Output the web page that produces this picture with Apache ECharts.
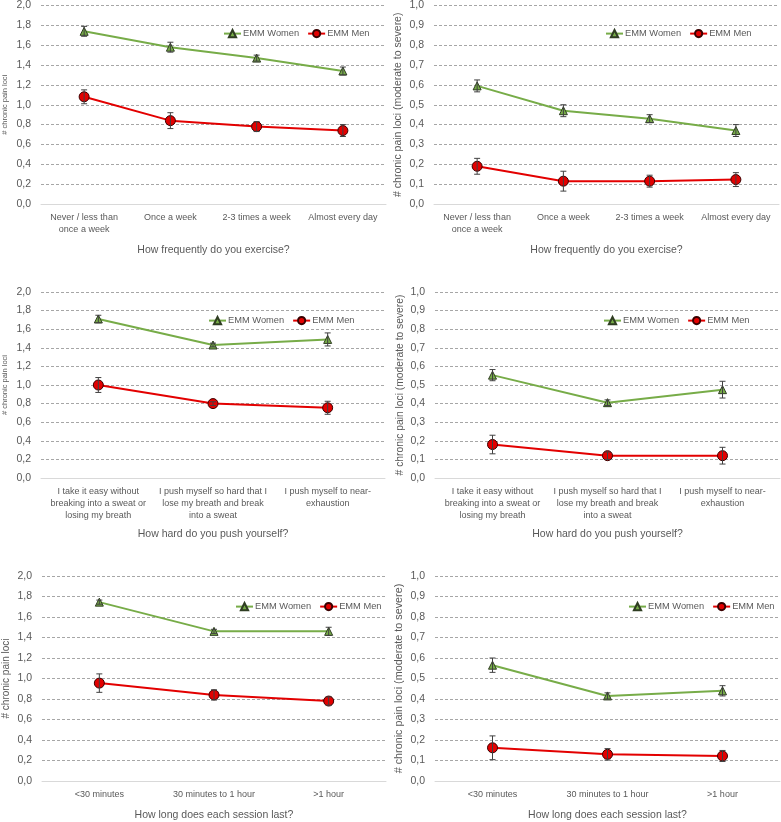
<!DOCTYPE html>
<html>
<head>
<meta charset="utf-8">
<script src="https://cdn.jsdelivr.net/npm/echarts@6/dist/echarts.min.js"></script>
<style>
  html, body { margin: 0; padding: 0; background: #fff; }
  #main { width: 781px; height: 822px; }
</style>
</head>
<body>
<div id="main"></div>
<script>
// categories
var freqCats = ['Never / less than\nonce a week', 'Once a week', '2-3 times a week', 'Almost every day'];
var hardCats = ['I take it easy without\nbreaking into a sweat or\nlosing my breath',
  'I push myself so hard that I\nlose my breath and break\ninto a sweat',
  'I push myself to near-\nexhaustion'];
var durCats = ['<30 minutes', '30 minutes to 1 hour', '>1 hour'];

// EMM values (all loci / moderate to severe) and error bar half-widths
var freqWomenAll = [1.74, 1.58, 1.47, 1.34];
var freqWomenAllErr = [0.05, 0.05, 0.03, 0.04];
var freqMenAll = [1.08, 0.84, 0.78, 0.74];
var freqMenAllErr = [0.07, 0.08, 0.05, 0.06];
var freqWomenMod = [0.595, 0.47, 0.43, 0.37];
var freqWomenModErr = [0.03, 0.03, 0.02, 0.03];
var freqMenMod = [0.19, 0.115, 0.115, 0.123];
var freqMenModErr = [0.04, 0.05, 0.03, 0.035];

var hardWomenAll = [1.71, 1.43, 1.49];
var hardWomenAllErr = [0.04, 0.02, 0.07];
var hardMenAll = [1.00, 0.80, 0.755];
var hardMenAllErr = [0.08, 0.02, 0.07];
var hardWomenMod = [0.553, 0.405, 0.475];
var hardWomenModErr = [0.03, 0.015, 0.045];
var hardMenMod = [0.18, 0.12, 0.12];
var hardMenModErr = [0.05, 0.02, 0.045];

var durWomenAll = [1.745, 1.46, 1.46];
var durWomenAllErr = [0.02, 0.02, 0.04];
var durMenAll = [0.955, 0.84, 0.78];
var durMenAllErr = [0.09, 0.05, 0.04];
var durWomenMod = [0.565, 0.415, 0.44];
var durWomenModErr = [0.035, 0.015, 0.025];
var durMenMod = [0.162, 0.13, 0.122];
var durMenModErr = [0.058, 0.028, 0.027];

var seriesNames = ['EMM Women', 'EMM Men'];
var yNameAll = '# chronic pain loci';
var yNameMod = '# chronic pain loci (moderate to severe)';

var FONT = 'Liberation Sans';
var TXT = '#595959';
var GREEN = '#77ac48';
var RED = '#e30000';

var panels = [
  {cats: freqCats, w: freqWomenAll, we: freqWomenAllErr, m: freqMenAll, me: freqMenAllErr, max: 2, step: 0.2,
   grid: {left: 40, top: 5, width: 346, height: 199}, legend: {left: 223, top: 29},
   xName: 'How frequently do you exercise?', xGap: 41, yName: yNameAll, yGap: 32, yFont: 7.5},
  {cats: freqCats, w: freqWomenMod, we: freqWomenModErr, m: freqMenMod, me: freqMenModErr, max: 1, step: 0.1,
   grid: {left: 434, top: 5, width: 345, height: 199}, legend: {left: 605, top: 29},
   xName: 'How frequently do you exercise?', xGap: 41, yName: yNameMod, yGap: 30, yFont: 10.5},
  {cats: hardCats, w: hardWomenAll, we: hardWomenAllErr, m: hardMenAll, me: hardMenAllErr, max: 2, step: 0.2,
   grid: {left: 39, top: 292, width: 346, height: 186}, legend: {left: 208, top: 316},
   xName: 'How hard do you push yourself?', xGap: 51, yName: yNameAll, yGap: 32, yFont: 7.5},
  {cats: hardCats, w: hardWomenMod, we: hardWomenModErr, m: hardMenMod, me: hardMenModErr, max: 1, step: 0.1,
   grid: {left: 435, top: 292, width: 345, height: 186}, legend: {left: 603, top: 316},
   xName: 'How hard do you push yourself?', xGap: 51, yName: yNameMod, yGap: 30, yFont: 10.3},
  {cats: durCats, w: durWomenAll, we: durWomenAllErr, m: durMenAll, me: durMenAllErr, max: 2, step: 0.2,
   grid: {left: 41, top: 576, width: 345, height: 211}, legend: {left: 235, top: 602},
   xName: 'How long does each session last?', xGap: 29, yName: yNameAll, yGap: 31, yFont: 10},
  {cats: durCats, w: durWomenMod, we: durWomenModErr, m: durMenMod, me: durMenModErr, max: 1, step: 0.1,
   grid: {left: 435, top: 576, width: 345, height: 211}, legend: {left: 628, top: 602},
   xName: 'How long does each session last?', xGap: 29, yName: yNameMod, yGap: 30, yFont: 10.8}
];

function errorSeries(idx, vals, errs) {
  return {
    type: 'custom',
    xAxisIndex: idx,
    yAxisIndex: idx,
    silent: true,
    z: 4,
    data: vals.map(function(v, i) { return [i, v - errs[i], v + errs[i]]; }),
    encode: {x: 0, y: [1, 2]},
    renderItem: function(params, api) {
      var lo = api.coord([api.value(0), api.value(1)]);
      var hi = api.coord([api.value(0), api.value(2)]);
      var c = 3;
      var st = {stroke: '#404040', lineWidth: 1};
      return {
        type: 'group',
        children: [
          {type: 'line', shape: {x1: lo[0], y1: lo[1], x2: hi[0], y2: hi[1]}, style: st},
          {type: 'line', shape: {x1: lo[0] - c, y1: lo[1], x2: lo[0] + c, y2: lo[1]}, style: st},
          {type: 'line', shape: {x1: hi[0] - c, y1: hi[1], x2: hi[0] + c, y2: hi[1]}, style: st}
        ]
      };
    }
  };
}

var option = {
  backgroundColor: '#fff',
  animation: false,
  textStyle: {fontFamily: FONT},
  grid: [], xAxis: [], yAxis: [], legend: [], series: []
};

panels.forEach(function(p, i) {
  option.grid.push(p.grid);
  option.xAxis.push({
    type: 'category',
    gridIndex: i,
    data: p.cats,
    boundaryGap: true,
    axisTick: {show: false},
    axisLine: {lineStyle: {color: '#d9d9d9', width: 1}},
    axisLabel: {color: TXT, fontSize: 9, lineHeight: 12, margin: 8, interval: 0, fontFamily: FONT},
    name: p.xName,
    nameLocation: 'middle',
    nameGap: p.xGap,
    nameTextStyle: {color: TXT, fontSize: 10.5, fontFamily: FONT}
  });
  option.yAxis.push({
    type: 'value',
    gridIndex: i,
    min: 0,
    max: p.max,
    interval: p.step,
    axisLine: {show: false},
    axisTick: {show: false},
    splitLine: {lineStyle: {color: '#a6a6a6', type: [3, 2], width: 1}},
    axisLabel: {
      color: TXT, fontSize: 10.5, margin: 10, fontFamily: FONT,
      formatter: function(v) { return v.toFixed(1).replace('.', ','); }
    },
    name: p.yName,
    nameLocation: 'middle',
    nameGap: p.yGap,
    nameRotate: 90,
    nameTextStyle: {color: TXT, fontSize: p.yFont, fontFamily: FONT}
  });
  option.legend.push({
    data: seriesNames,
    left: p.legend.left,
    top: p.legend.top,
    width: 220,
    orient: 'horizontal',
    itemWidth: 17,
    itemHeight: 9,
    itemGap: 8,
    padding: 0,
    selectedMode: false,
    textStyle: {color: TXT, fontSize: 9.3, fontFamily: FONT, padding: [0, 0, 0, -3]}
  });
  option.series.push({
    name: seriesNames[0],
    type: 'line',
    xAxisIndex: i,
    yAxisIndex: i,
    data: p.w,
    symbol: 'triangle',
    symbolSize: 8,
    lineStyle: {color: GREEN, width: 2},
    itemStyle: {color: GREEN, borderColor: '#2f3d22', borderWidth: 1},
    z: 3
  });
  option.series.push({
    name: seriesNames[1],
    type: 'line',
    xAxisIndex: i,
    yAxisIndex: i,
    data: p.m,
    symbol: 'circle',
    symbolSize: 10,
    lineStyle: {color: RED, width: 2},
    itemStyle: {color: RED, borderColor: '#3a0000', borderWidth: 1},
    z: 3
  });
  option.series.push(errorSeries(i, p.w, p.we));
  option.series.push(errorSeries(i, p.m, p.me));
});

var chart = echarts.init(document.getElementById('main'));
chart.setOption(option);
</script>
</body>
</html>
